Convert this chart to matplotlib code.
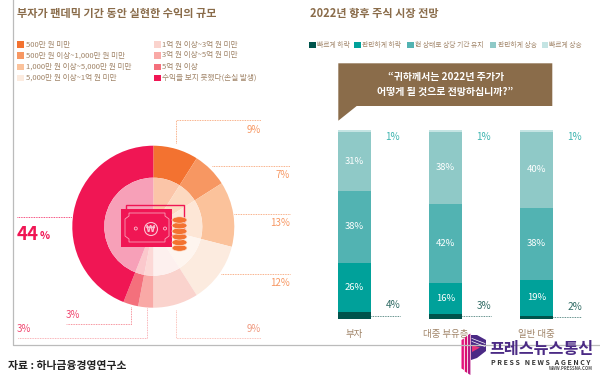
import matplotlib
matplotlib.use('Agg')
import matplotlib.pyplot as plt
from matplotlib.patches import Rectangle, Polygon, Circle, Ellipse

plt.rcParams['font.family'] = ['Noto Sans CJK KR', 'DejaVu Sans']

W, H = 600, 378

# 왼쪽: 수익 규모
pie_labels = ['500만 원 미만', '500만 원 이상~1,000만 원 미만', '1,000만 원 이상~5,000만 원 미만',
              '5,000만 원 이상~1억 원 미만', '1억 원 이상~3억 원 미만', '3억 원 이상~5억 원 미만',
              '5억 원 이상', '수익을 보지 못했다(손실 발생)']
pie_values = [9, 7, 13, 12, 9, 3, 3, 44]
pie_colors = ['#f37230', '#f79762', '#fbc29b', '#fcebdf', '#fad3cd', '#f9a9a6', '#f4707c', '#f01654']
inner_colors = ['#fbc5a8', '#fcd9c0', '#fde6d6', '#fef5ef', '#fdf0ee', '#fcd8d6', '#fbc8cc', '#f7a0b8']

# 오른쪽: 주식 시장 전망
groups = ['부자', '대중 부유층', '일반 대중']
outlook_labels = ['빠르게 하락', '완만하게 하락', '현 상태로 상당 기간 유지', '완만하게 상승', '빠르게 상승']
outlook_colors = ['#00544c', '#00a19a', '#52b3b2', '#8fc9c7', '#c4e4e3']
fast_down = [4, 3, 2]
slow_down = [26, 16, 19]
flat = [38, 42, 38]
slow_up = [31, 38, 40]
fast_up = [1, 1, 1]

BROWN = '#8a6c4a'
LABEL = '#a08468'
PINK = '#f01654'
ORANGE = '#f79762'


def px_axes(left, top, right, bottom):
    return fig.add_axes([left / W, 1 - bottom / H, (right - left) / W, (bottom - top) / H])


fig = plt.figure(figsize=(W / 100, H / 100), dpi=100)

# 도넛
ax_pie = px_axes(153.3 - 81, 226.7 - 81, 153.3 + 81, 226.7 + 81)
ax_pie.pie(pie_values, colors=pie_colors, startangle=90, counterclock=False, radius=1,
           wedgeprops={'width': 1 - 49 / 81})
ax_pie.pie(pie_values, colors=inner_colors, startangle=90, counterclock=False, radius=49 / 81)
ax_pie.set_xlim(-1, 1)
ax_pie.set_ylim(-1, 1)

# 막대
ax_bar = px_axes(309, 130, 582, 319.3)
series = [fast_down, slow_down, flat, slow_up, fast_up]
x = range(len(groups))
bottoms = [0, 0, 0]
for k, vals in enumerate(series):
    ax_bar.bar(x, vals, width=0.357, bottom=bottoms, color=outlook_colors[k])
    for i in x:
        mid = bottoms[i] + vals[i] / 2
        if k in (1, 2, 3):
            ax_bar.text(i, mid, f'{vals[i]}%', color='white', ha='center', va='center', fontsize=6.8)
    bottoms = [b + v for b, v in zip(bottoms, vals)]
for i in x:
    ax_bar.text(i + 0.42, 96.3, f'{fast_up[i]}%', color='#3fb5b0', ha='center', va='center', fontsize=7.2)
    ax_bar.plot([i + 0.18, i + 0.5], [fast_down[i] / 2] * 2, color='#2f6b64', lw=0.6, ls=(0, (1, 1)))
    ax_bar.text(i + 0.42, fast_down[i] / 2 + 5.7, f'{fast_down[i]}%', color='#2f6b64', ha='center',
                va='center', fontsize=7.2)
ax_bar.set_xlim(-0.5, 2.5)
ax_bar.set_ylim(0, 100)
ax_bar.set_xticks(list(x))
ax_bar.set_xticklabels(groups, color=LABEL, fontsize=6.8)
ax_bar.tick_params(length=0, pad=8)
ax_bar.set_yticks([])
for s in ax_bar.spines.values():
    s.set_visible(False)
ax_bar.patch.set_alpha(0)

# 나머지 글자, 선은 픽셀 좌표 축에
ax = fig.add_axes([0, 0, 1, 1])
ax.set_xlim(0, W)
ax.set_ylim(H, 0)
ax.axis('off')

# 테두리
ax.plot([12.5, 12.5, 600], [0, 345, 345], color='#bbbbbb', lw=0.9)

# 제목
ax.text(17, 13, '부자가 팬데믹 기간 동안 실현한 수익의 규모', color=BROWN, fontsize=8.0,
        fontweight='bold', va='center')
ax.text(310, 13.5, '2022년 향후 주식 시장 전망', color=BROWN, fontsize=8.0, fontweight='bold', va='center')

# 왼쪽 범례
legend_y = [44.5, 55.5, 66.8, 78]
for i, (lab, c) in enumerate(zip(pie_labels, pie_colors)):
    lx = 17 if i < 4 else 153.5
    ly = legend_y[i % 4]
    ax.add_patch(Rectangle((lx, ly - 3.3), 7, 6.6, color=c, lw=0))
    ax.text(lx + 8.5, ly, lab, color=LABEL, fontsize=5.5, va='center')

# 오른쪽 범례
legend_x = [309.3, 354.3, 407.3, 490, 541.7]
for lx, lab, c in zip(legend_x, outlook_labels, outlook_colors):
    ax.add_patch(Rectangle((lx, 41.5), 6.3, 6.3, color=c, lw=0))
    ax.text(lx + 7.5, 44.7, lab, color=LABEL, fontsize=4.9, va='center')

# 말풍선
ax.add_patch(Polygon([(338.3, 63.3), (552.3, 63.3), (552.3, 106), (356.7, 106), (338.3, 120.7)],
                     color=BROWN, lw=0))
ax.text(445.5, 76.8, '“귀하께서는 2022년 주가가', color='white', fontsize=7.2, fontweight='bold',
        ha='center', va='center')
ax.text(445.5, 91.8, '어떻게 될 것으로 전망하십니까?”', color='white', fontsize=7.2, fontweight='bold',
        ha='center', va='center')

# 도넛 지시선
DOT = (0, (1, 1))
leaders = [
    ([176.3, 176.3, 260.7], [143, 120, 120], ORANGE),
    ([212, 290], [165.7, 165.7], ORANGE),
    ([234, 290], [214.3, 214.3], ORANGE),
    ([220.7, 290], [274.3, 274.3], ORANGE),
    ([176.3, 176.3, 260.7], [310, 338.3, 338.3], '#f9b0a6'),
    ([130.7, 130.7, 66], [306.7, 324.3, 324.3], '#f4707c'),
    ([147, 147, 17], [308, 338.3, 338.3], '#f79aa0'),
    ([17, 72], [217.3, 217.3], PINK),
]
for lx, ly, c in leaders:
    ax.plot(lx, ly, color=c, lw=0.6, ls=DOT)

pct_pos = [(260.5, 130, 'right', ORANGE), (290, 175, 'right', ORANGE), (290, 223.3, 'right', ORANGE),
           (290, 283.3, 'right', ORANGE), (260.5, 328.5, 'right', '#f09a80'),
           (66, 315, 'left', '#f0456e'), (17, 328.7, 'left', '#f0456e')]
for (px, py, ha, c), v in zip(pct_pos, pie_values[:5] + pie_values[6:7] + pie_values[5:6]):
    ax.text(px, py, f'{v}%', color=c, ha=ha, va='center', fontsize=7.0)
ax.text(17, 234, f'{pie_values[7]}', color=PINK, fontsize=13.5, fontweight='bold', va='center')
ax.text(39.5, 236, '%', color=PINK, fontsize=7.5, fontweight='bold', va='center')

# 지폐 아이콘
ax.add_patch(Rectangle((126, 205), 58, 30, fill=False, ec=PINK, lw=1.0))
ax.add_patch(Rectangle((120.5, 209), 51, 37.7, color=PINK, lw=0))
ax.add_patch(Polygon([(129, 213), (165, 213), (165, 216), (169, 219), (169, 236), (165, 239), (165, 242),
                      (129, 242), (129, 239), (125, 236), (125, 219), (129, 216)],
                     fill=False, ec='#f9a0b8', lw=0.6))
ax.add_patch(Circle((151, 229), 6.5, fill=False, ec='#fbc0d0', lw=0.8))
ax.text(151, 229, '₩', color='#fbc0d0', fontsize=6, ha='center', va='center', fontweight='bold',
        family='DejaVu Sans')
ax.add_patch(Circle((135.8, 228.5), 1.5, fill=False, ec='#fbc0d0', lw=0.6))
ax.add_patch(Circle((165, 228.5), 1.5, fill=False, ec='#fbc0d0', lw=0.6))
for cy in [248, 242.4, 236.8, 231.2, 225.6, 220]:
    ax.add_patch(Ellipse((179.5, cy), 15, 6.4, fc='#f37230', ec='#fde6d6', lw=0.45))

# 출처
ax.text(8, 365.5, '자료 : 하나금융경영연구소', color='#222222', fontsize=7.8, va='center', fontweight='bold')

# 로고
stripes = [(461.5, 340, 370, '#e5127d'), (464.8, 337.5, 373, '#d8106f'), (468, 335, 375, '#b81a86')]
for sx, top, bot, c in stripes:
    ax.add_patch(Polygon([(sx, top), (sx + 2.4, top - 1.5), (sx + 2.4, bot), (sx, bot - 1.5)], color=c, lw=0))
ax.add_patch(Polygon([(471, 335), (477, 335), (486, 340), (486, 351), (477, 358), (471, 360)],
                     color='#4b2a85', lw=0))
ax.add_patch(Polygon([(472, 345), (480, 347.5), (472, 352)], color='#e8337a', lw=0))
ax.plot([472, 485], [338.5, 343.5], color='white', lw=0.5)
ax.plot([472, 485], [341.5, 346.5], color='white', lw=0.5)
ax.text(541.5, 348.5, '프레스뉴스통신', color='#4b2a85', fontsize=11.7, fontweight='bold', ha='center', va='center')
ax.text(541, 362.5, 'P R E S S   N E W S   A G E N C Y', color='#333333', fontsize=5.0, fontweight='bold',
        ha='center', va='center')
ax.text(592.5, 368.5, 'WWW.PRESSNA.COM', color='#555555', fontsize=3.1, fontweight='bold', ha='right', va='center')

fig.savefig('out.png', dpi=100)
